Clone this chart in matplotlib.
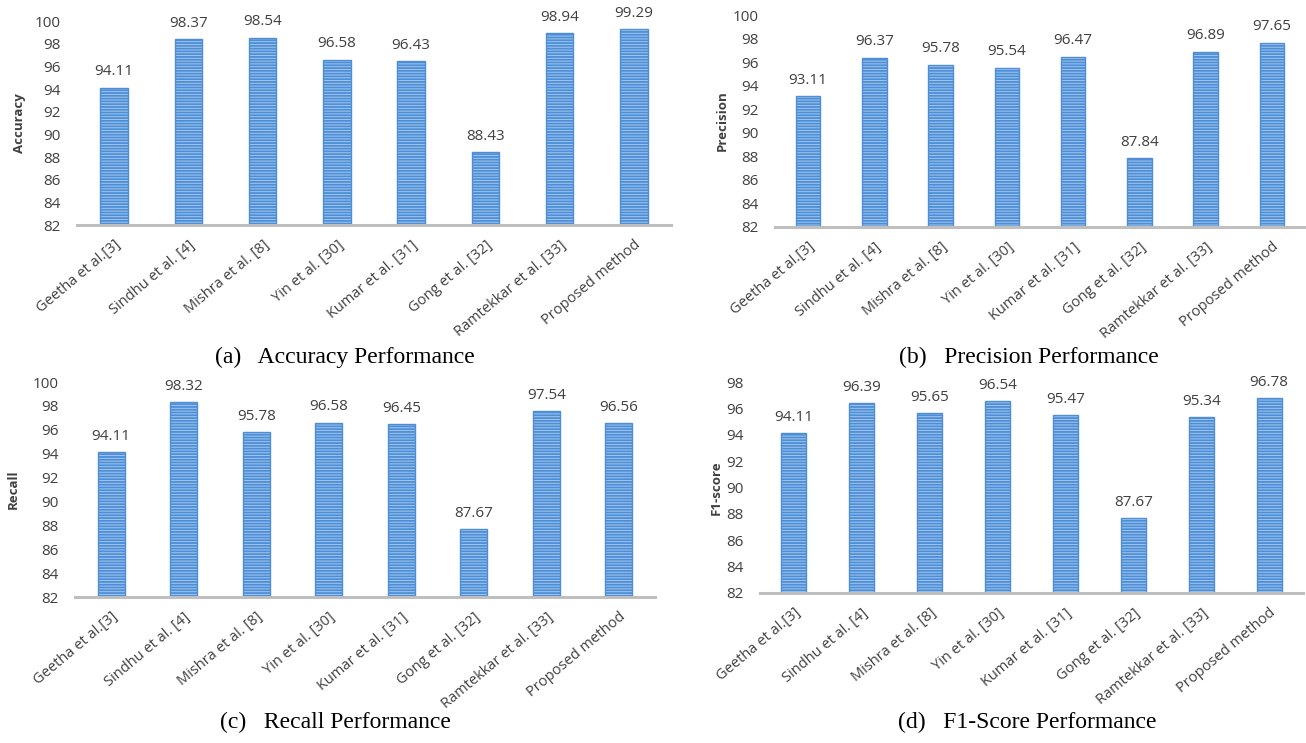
import matplotlib
matplotlib.use("Agg")
import matplotlib.pyplot as plt

categories = ['Geetha et al.[3]', 'Sindhu et al. [4]', 'Mishra et al. [8]', 'Yin et al. [30]',
              'Kumar et al. [31]', 'Gong et al. [32]', 'Ramtekkar et al. [33]', 'Proposed method']
accuracy = [94.11, 98.37, 98.54, 96.58, 96.43, 88.43, 98.94, 99.29]
precision = [93.11, 96.37, 95.78, 95.54, 96.47, 87.84, 96.89, 97.65]
recall = [94.11, 98.32, 95.78, 96.58, 96.45, 87.67, 97.54, 96.56]
f1_score = [94.11, 96.39, 95.65, 96.54, 95.47, 87.67, 95.34, 96.78]

yticks_100 = [82, 84, 86, 88, 90, 92, 94, 96, 98, 100]
yticks_98 = [82, 84, 86, 88, 90, 92, 94, 96, 98]

plt.rcParams['font.family'] = ['Open Sans', 'DejaVu Sans']
plt.rcParams['hatch.linewidth'] = 1.3

W, H = 1306, 743
fig = plt.figure(figsize=(W / 100, H / 100), dpi=100)

def ax_rect(x0, x1, ytop, ybot):
    return [x0 / W, 1 - ybot / H, (x1 - x0) / W, (ybot - ytop) / H]

panels = [
    (ax_rect(77, 671, 21, 225), accuracy, 'Accuracy', yticks_100, 100, 19,
     '(a)   Accuracy Performance', 345, 357),
    (ax_rect(775, 1305, 15, 227), precision, 'Precision', yticks_100, 100, 722,
     '(b)   Precision Performance', 1029, 357),
    (ax_rect(75, 655, 382, 597), recall, 'Recall', yticks_100, 100, 13,
     '(c)   Recall Performance', 335, 722),
    (ax_rect(760, 1303, 382, 593), f1_score, 'F1-score', yticks_98, 98, 716,
     '(d)   F1-Score Performance', 1027, 722),
]

face = '#a3c8ee'
edge = '#4e8ed6'

for rect, vals, ylab, yt, ymax, ylab_x, title, tx, ty in panels:
    ax = fig.add_axes(rect)
    x = list(range(len(categories)))
    ax.bar(x, vals, width=0.37, bottom=0, color=face, edgecolor=edge,
           hatch='------', linewidth=1.0)
    ax.set_xlim(-0.5, len(categories) - 0.5)
    ax.set_ylim(82, ymax)
    ax.set_yticks(yt)
    ax.set_yticklabels([str(v) for v in yt], fontsize=11, color='#404040')
    ax.set_xticks(x)
    ax.set_xticklabels(categories, rotation=40, ha='right', rotation_mode='anchor',
                       fontsize=10.5, color='#404040')
    ax.tick_params(axis='both', length=0)
    ax.tick_params(axis='y', pad=12)
    ax.tick_params(axis='x', pad=9)
    for s in ['top', 'right', 'left']:
        ax.spines[s].set_visible(False)
    ax.spines['bottom'].set_color('#bfbfbf')
    ax.spines['bottom'].set_linewidth(2.2)
    for xi, v in zip(x, vals):
        ax.annotate(f'{v:.2f}', (xi, v), xytext=(0, 11.5), textcoords='offset points',
                    ha='center', va='center', fontsize=11, color='#404040',
                    annotation_clip=False)
    fig.text(ylab_x / W, rect[1] + rect[3] / 2, ylab, rotation=90, ha='center',
             va='center', fontsize=9.5, fontweight='bold', color='#404040')
    fig.text(tx / W, 1 - ty / H, title, ha='center', va='center',
             fontsize=17, family='Liberation Serif', color='black')

fig.savefig('out.png', dpi=100)
